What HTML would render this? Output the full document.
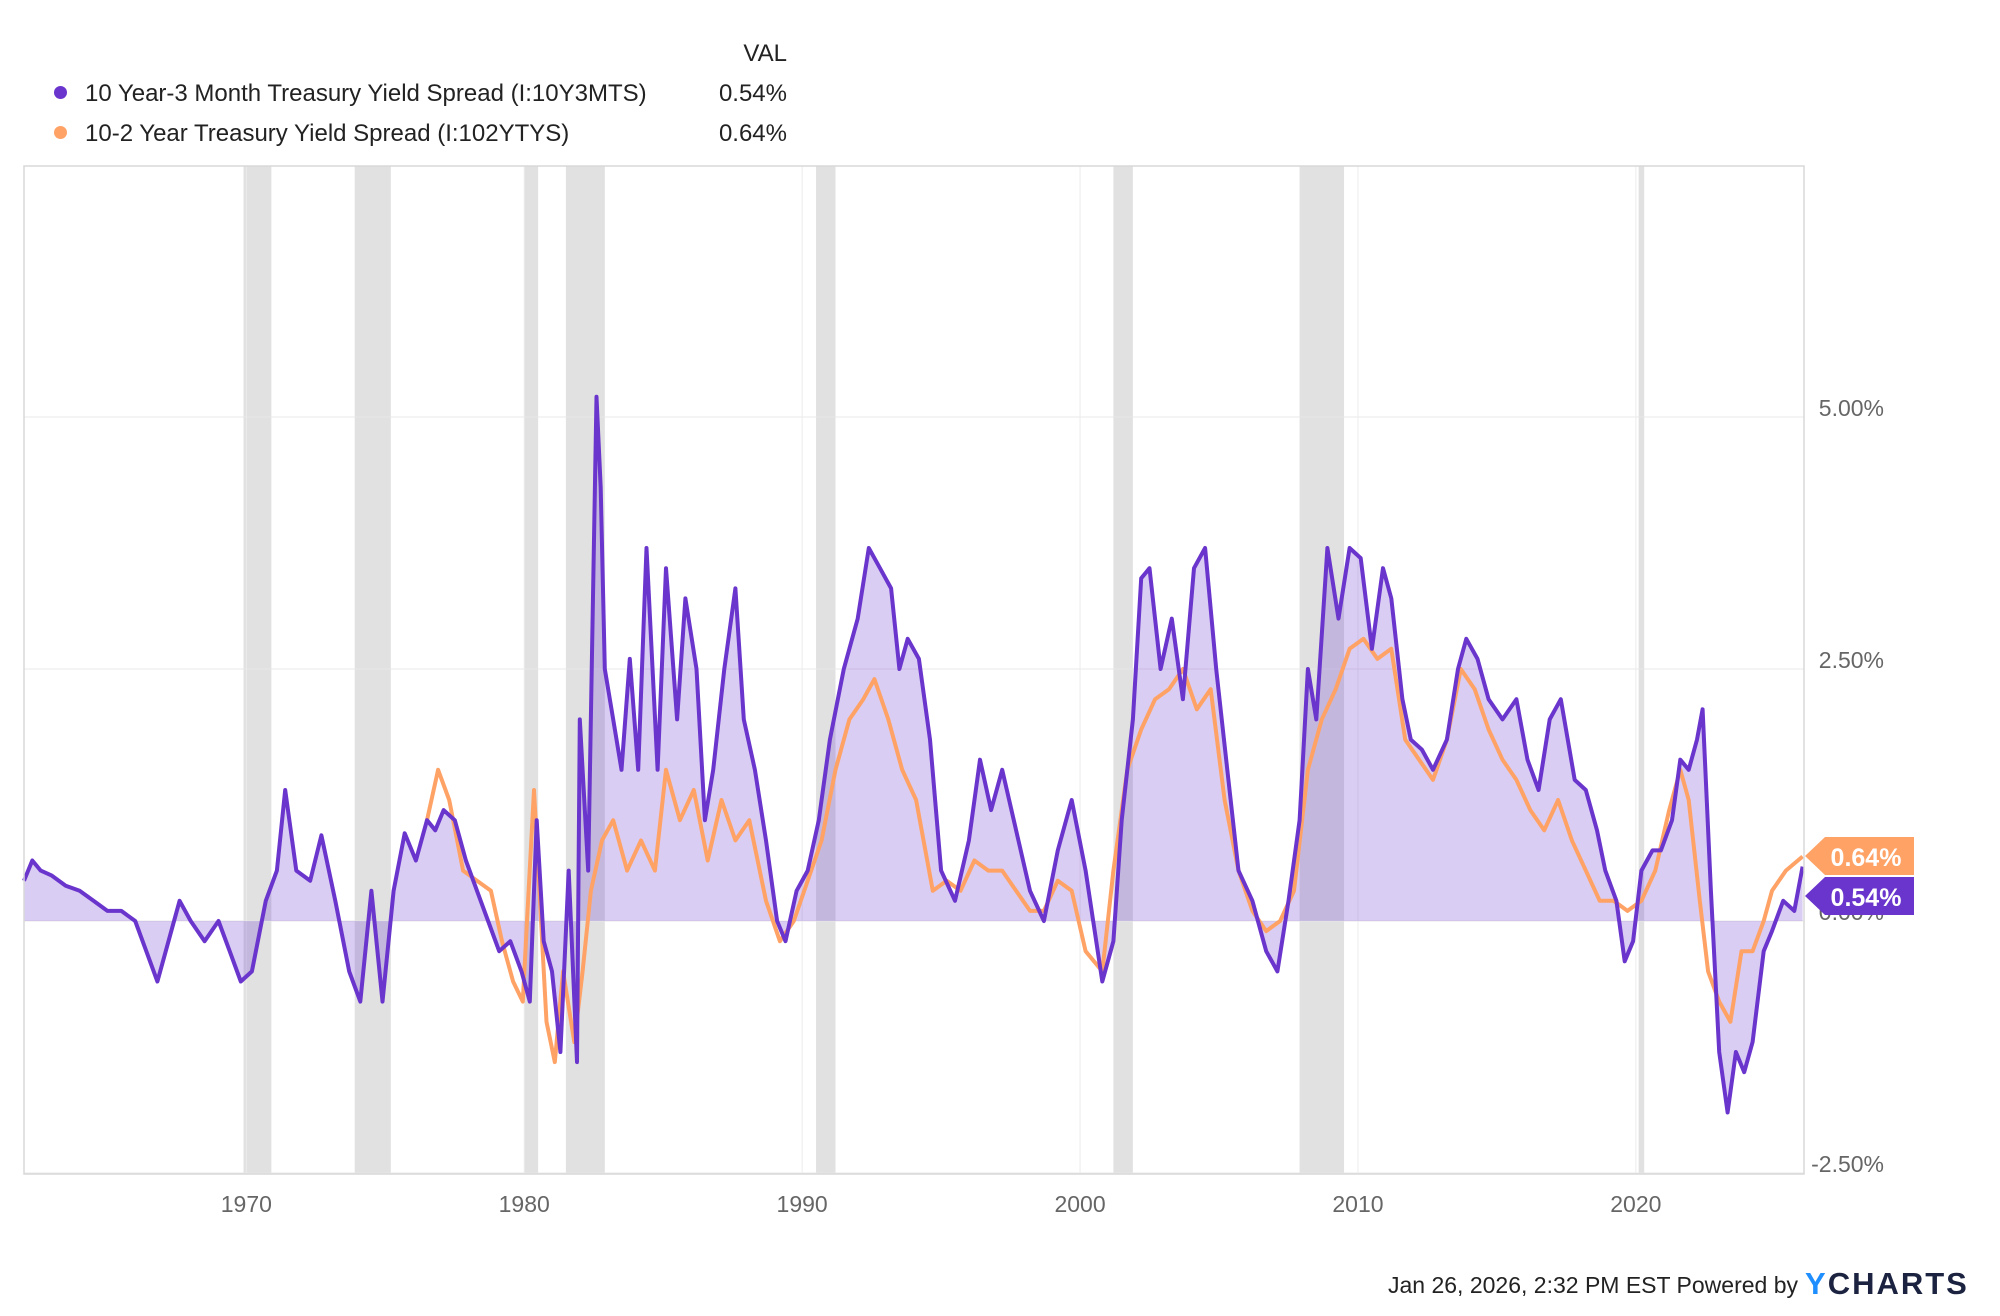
<!DOCTYPE html>
<html><head><meta charset="utf-8"><style>
body{margin:0;background:#fff;font-family:"Liberation Sans",sans-serif;}
#wrap{position:relative;width:2000px;height:1316px;overflow:hidden;}
svg text{font-family:"Liberation Sans",sans-serif;}
</style></head><body>
<div id="wrap">
<svg id="chart" width="2000" height="1316"></svg>
</div>
<script>
const recessions = [[1969.9,1970.9],[1973.9,1975.2],[1980.0,1980.5],[1981.5,1982.9],[1990.5,1991.2],[2001.2,2001.9],[2007.9,2009.5],[2020.1,2020.3]];
const yTicks = [-2.5, 0, 2.5, 5];
const yTickLabels = ["-2.50%","0.00%","2.50%","5.00%"];
const xTicks = [1970,1980,1990,2000,2010,2020];
const t3m = [1962,1962.3,1962.6,1963,1963.5,1964,1964.5,1965,1965.5,1966,1966.4,1966.8,1967.2,1967.6,1968,1968.5,1969,1969.4,1969.8,1970.2,1970.7,1971.1,1971.4,1971.8,1972.3,1972.7,1973.2,1973.7,1974.1,1974.5,1974.9,1975.3,1975.7,1976.1,1976.5,1976.8,1977.1,1977.5,1977.9,1978.3,1978.7,1979.1,1979.5,1979.9,1980.2,1980.45,1980.7,1981.0,1981.3,1981.6,1981.9,1982.0,1982.3,1982.6,1982.75,1982.9,1983.2,1983.5,1983.8,1984.1,1984.4,1984.8,1985.1,1985.5,1985.8,1986.2,1986.5,1986.8,1987.2,1987.6,1987.9,1988.3,1988.7,1989.1,1989.4,1989.8,1990.2,1990.6,1991.0,1991.5,1992.0,1992.4,1992.8,1993.2,1993.5,1993.8,1994.2,1994.6,1995.0,1995.5,1996.0,1996.4,1996.8,1997.2,1997.7,1998.2,1998.7,1999.2,1999.7,2000.2,2000.8,2001.2,2001.5,2001.9,2002.2,2002.5,2002.9,2003.3,2003.7,2004.1,2004.5,2004.9,2005.3,2005.7,2006.2,2006.7,2007.1,2007.5,2007.9,2008.2,2008.5,2008.9,2009.3,2009.7,2010.1,2010.5,2010.9,2011.2,2011.6,2011.9,2012.3,2012.7,2013.2,2013.6,2013.9,2014.3,2014.7,2015.2,2015.7,2016.1,2016.5,2016.9,2017.3,2017.8,2018.2,2018.6,2018.9,2019.3,2019.6,2019.9,2020.2,2020.6,2020.9,2021.3,2021.6,2021.9,2022.2,2022.4,2022.7,2023.0,2023.3,2023.6,2023.9,2024.2,2024.6,2024.9,2025.3,2025.7,2026.0];
const v3m = [0.4,0.6,0.5,0.45,0.35,0.3,0.2,0.1,0.1,0.0,-0.3,-0.6,-0.2,0.2,0.0,-0.2,0.0,-0.3,-0.6,-0.5,0.2,0.5,1.3,0.5,0.4,0.85,0.2,-0.5,-0.8,0.3,-0.8,0.3,0.87,0.6,1.0,0.9,1.1,1.0,0.6,0.3,0.0,-0.3,-0.2,-0.5,-0.8,1.0,-0.2,-0.5,-1.3,0.5,-1.4,2.0,0.5,5.2,4.3,2.5,2.0,1.5,2.6,1.5,3.7,1.5,3.5,2.0,3.2,2.5,1.0,1.5,2.5,3.3,2.0,1.5,0.8,0.0,-0.2,0.3,0.5,1.0,1.8,2.5,3.0,3.7,3.5,3.3,2.5,2.8,2.6,1.8,0.5,0.2,0.8,1.6,1.1,1.5,0.9,0.3,0.0,0.7,1.2,0.5,-0.6,-0.2,1.0,2.0,3.4,3.5,2.5,3.0,2.2,3.5,3.7,2.5,1.5,0.5,0.2,-0.3,-0.5,0.2,1.0,2.5,2.0,3.7,3.0,3.7,3.6,2.7,3.5,3.2,2.2,1.8,1.7,1.5,1.8,2.5,2.8,2.6,2.2,2.0,2.2,1.6,1.3,2.0,2.2,1.4,1.3,0.9,0.5,0.2,-0.4,-0.2,0.5,0.7,0.7,1.0,1.6,1.5,1.8,2.1,0.3,-1.3,-1.9,-1.3,-1.5,-1.2,-0.3,-0.1,0.2,0.1,0.54];
const t2y = [1976.5,1976.9,1977.3,1977.8,1978.3,1978.8,1979.2,1979.6,1979.95,1980.1,1980.35,1980.8,1981.1,1981.4,1981.8,1982.1,1982.4,1982.8,1983.2,1983.7,1984.2,1984.7,1985.1,1985.6,1986.1,1986.6,1987.1,1987.6,1988.1,1988.7,1989.2,1989.7,1990.2,1990.7,1991.2,1991.7,1992.2,1992.6,1993.1,1993.6,1994.1,1994.7,1995.2,1995.7,1996.2,1996.7,1997.2,1997.7,1998.2,1998.7,1999.2,1999.7,2000.2,2000.8,2001.2,2001.7,2002.2,2002.7,2003.2,2003.7,2004.2,2004.7,2005.2,2005.7,2006.2,2006.7,2007.2,2007.7,2008.2,2008.7,2009.2,2009.7,2010.2,2010.7,2011.2,2011.7,2012.2,2012.7,2013.2,2013.7,2014.2,2014.7,2015.2,2015.7,2016.2,2016.7,2017.2,2017.7,2018.2,2018.7,2019.2,2019.7,2020.2,2020.7,2021.2,2021.6,2021.9,2022.3,2022.6,2023.0,2023.4,2023.8,2024.2,2024.6,2024.9,2025.4,2026.0];
const v2y = [1.0,1.5,1.2,0.5,0.4,0.3,-0.2,-0.6,-0.8,0.0,1.3,-1.0,-1.4,-0.5,-1.2,-0.5,0.3,0.8,1.0,0.5,0.8,0.5,1.5,1.0,1.3,0.6,1.2,0.8,1.0,0.2,-0.2,0.0,0.4,0.8,1.5,2.0,2.2,2.4,2.0,1.5,1.2,0.3,0.4,0.3,0.6,0.5,0.5,0.3,0.1,0.1,0.4,0.3,-0.3,-0.5,0.5,1.5,1.9,2.2,2.3,2.5,2.1,2.3,1.2,0.5,0.1,-0.1,0.0,0.3,1.5,2.0,2.3,2.7,2.8,2.6,2.7,1.8,1.6,1.4,1.8,2.5,2.3,1.9,1.6,1.4,1.1,0.9,1.2,0.8,0.5,0.2,0.2,0.1,0.2,0.5,1.1,1.5,1.2,0.2,-0.5,-0.8,-1.0,-0.3,-0.3,0.0,0.3,0.5,0.64];

const NS='http://www.w3.org/2000/svg';
const svg=document.getElementById('chart');
const L=24,R=1804,T=166,B=1174,X0=1962.0,X1=2026.05;
function xs(t){return L+(t-X0)/(X1-X0)*(R-L);}
function ys(v){return 921-v*(921-417)/5;}
function mk(tag,attrs){const e=document.createElementNS(NS,tag);for(const k in attrs)e.setAttribute(k,attrs[k]);svg.appendChild(e);return e;}
function txt(s,x,y,attrs){const e=mk('text',Object.assign({x:x,y:y},attrs));e.textContent=s;return e;}

recessions.forEach(r=>{
  const e=mk('rect',{x:xs(r[0]),y:T,width:xs(r[1])-xs(r[0]),height:B-T,fill:'#e1e1e1'});
  
  
});
yTicks.forEach((v,i)=>{
  const g=mk('line',{x1:L,x2:R,y1:ys(v),y2:ys(v),stroke:'#e8e8e8','stroke-width':1});
  
  
  const t=txt(yTickLabels[i],1884,ys(v)-1,{'font-size':23,fill:'#666','text-anchor':'end'});
  
  
});
xTicks.forEach(y=>{
  const g=mk('line',{x1:xs(y),x2:xs(y),y1:T,y2:B,stroke:'#ececec','stroke-width':1});
  
  
  const t=txt(String(y),xs(y),1212,{'font-size':23,fill:'#666','text-anchor':'middle'});
  
  
});
let d='M'+xs(t3m[0])+','+ys(0);
t3m.forEach((t,i)=>{d+=' L'+xs(t).toFixed(1)+','+ys(v3m[i]).toFixed(1);});
d+=' L'+xs(t3m[t3m.length-1])+','+ys(0)+' Z';
const area=mk('path',{d:d,fill:'rgba(120,70,210,0.27)'});


function line(ts,vs,col,name){
  let p='';ts.forEach((t,i)=>{p+=(i?' L':'M')+xs(t).toFixed(1)+','+ys(vs[i]).toFixed(1);});
  const e=mk('path',{d:p,fill:'none',stroke:col,'stroke-width':4,'stroke-linejoin':'round'});
  
  
}
line(t2y,v2y,'#ffa266','10y2y-line');
line(t3m,v3m,'#6a35cc','10y3m-line');
const fr=mk('rect',{x:L,y:T,width:R-L,height:B-T,fill:'none',stroke:'#d8d8d8','stroke-width':1.5});


function tag(v,y,col,name){
  const g=mk('path',{d:`M1805,${y+19} L1825,${y} L1914,${y} L1914,${y+38} L1825,${y+38} Z`,fill:col});
  
  
  const t=txt(v,1866,y+29,{'font-size':25,'font-weight':'bold',fill:'#fff','text-anchor':'middle'});
  
  
}
tag('0.64%',837,'#ffa266','10y2y-value-tag');
tag('0.54%',877,'#6a35cc','10y3m-value-tag');
</script>
<div style="position:absolute;left:0;top:0;width:820px;height:160px;font-size:24px;color:#222;">
  <div style="position:absolute;right:33px;top:40px;">VAL</div>
  <div style="position:absolute;left:54px;top:80px;">
    <span style="display:inline-block;width:13px;height:13px;border-radius:50%;background:#6a35cc;margin-right:18px;vertical-align:2px;"></span>10 Year-3 Month Treasury Yield Spread (I:10Y3MTS)</div>
  <div style="position:absolute;right:33px;top:80px;">0.54%</div>
  <div style="position:absolute;left:54px;top:120px;">
    <span style="display:inline-block;width:13px;height:13px;border-radius:50%;background:#ffa266;margin-right:18px;vertical-align:2px;"></span>10-2 Year Treasury Yield Spread (I:102YTYS)</div>
  <div style="position:absolute;right:33px;top:120px;">0.64%</div>
</div>
<div style="position:absolute;right:202px;top:1272px;font-size:23px;color:#222;">Jan 26, 2026, 2:32 PM EST Powered by</div>
<div style="position:absolute;left:1805px;top:1266px;font-size:31px;font-weight:bold;letter-spacing:2px;color:#1b2340;"><span style="color:#1f8fff;">Y</span>CHARTS</div>
</body></html>
